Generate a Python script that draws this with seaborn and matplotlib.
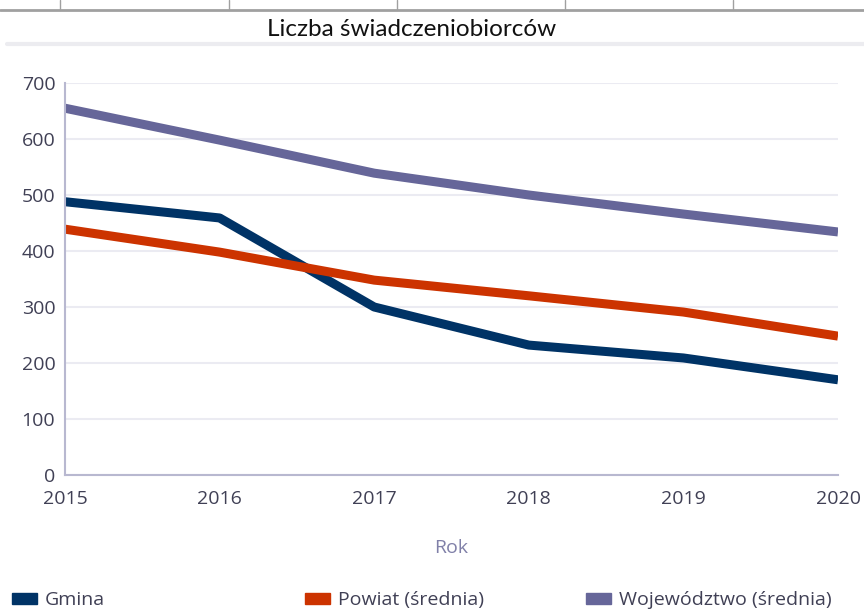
import numpy as np
import pandas as pd
import matplotlib
matplotlib.use("Agg")
from matplotlib import pyplot as plt
from matplotlib.patches import Patch
from matplotlib.lines import Line2D
import seaborn as sns

years = [2015, 2016, 2017, 2018, 2019, 2020]
gmina = [488, 459, 300, 232, 209, 170]
powiat = [439, 398, 348, 320, 291, 248]
wojewodztwo = [655, 598, 539, 500, 466, 434]
series_names = ["Gmina", "Powiat (średnia)", "Województwo (średnia)"]
colors = ["#003366", "#cc3300", "#666699"]

df = pd.DataFrame({
    "Rok": years * 3,
    "value": gmina + powiat + wojewodztwo,
    "series": [series_names[0]] * 6 + [series_names[1]] * 6 + [series_names[2]] * 6,
})

sns.set_theme(style="white")
plt.rcParams["font.family"] = ["Open Sans", "DejaVu Sans"]
txt = "#404055"

fig = plt.figure(figsize=(8.64, 6.12), dpi=100)
ax = fig.add_axes([65 / 864, 1 - 475 / 612, (838 - 65) / 864, (475 - 83) / 612])

sns.lineplot(data=df, x="Rok", y="value", hue="series", palette=colors,
             linewidth=6.5, ax=ax, legend=False, solid_capstyle="butt")

ax.set_xlim(2015, 2020)
ax.set_ylim(0, 700)
ax.set_yticks(range(0, 701, 100))
ax.set_xticks(years)
ax.grid(axis="y", color="#ebebf2", linewidth=1.5)
ax.set_axisbelow(True)
for s in ["top", "right"]:
    ax.spines[s].set_visible(False)
for s in ["left", "bottom"]:
    ax.spines[s].set_color("#b8b8d0")
    ax.spines[s].set_linewidth(1.5)
ax.tick_params(axis="both", length=0, labelsize=14, labelcolor=txt)
ax.tick_params(axis="y", pad=7)
ax.tick_params(axis="x", pad=11)
ax.set_xlabel("Rok", fontsize=14, color="#8080a8", labelpad=22)
ax.set_ylabel("")

fig.text(412 / 864, 1 - 29 / 612, "Liczba świadczeniobiorców", ha="center", va="center",
         fontsize=17.5, color="#111111", family=["Lato", "DejaVu Sans"])

# spreadsheet cell borders at the top
fig.add_artist(Line2D([0, 1], [1 - 10 / 612, 1 - 10 / 612], color="#a0a0a0", linewidth=2))
for xv in [60, 229, 397, 565, 733]:
    fig.add_artist(Line2D([xv / 864, xv / 864], [1 - 10 / 612, 1], color="#a0a0a0", linewidth=1))
fig.add_artist(Line2D([7 / 864, 1], [1 - 44 / 612, 1 - 44 / 612], color="#ececf0", linewidth=3))

# legend entries placed one by one
legend_x = [12, 305, 586]
for name, c, lx in zip(series_names, colors, legend_x):
    fig.legend([Patch(facecolor=c, edgecolor=c)], [name], loc="center left",
               bbox_to_anchor=(lx / 864, 1 - 600 / 612), frameon=False,
               fontsize=14, labelcolor=txt, handlelength=1.3, handleheight=0.5,
               handletextpad=0.4, borderaxespad=0.0, borderpad=0.0)

fig.savefig("out.png", dpi=100)
